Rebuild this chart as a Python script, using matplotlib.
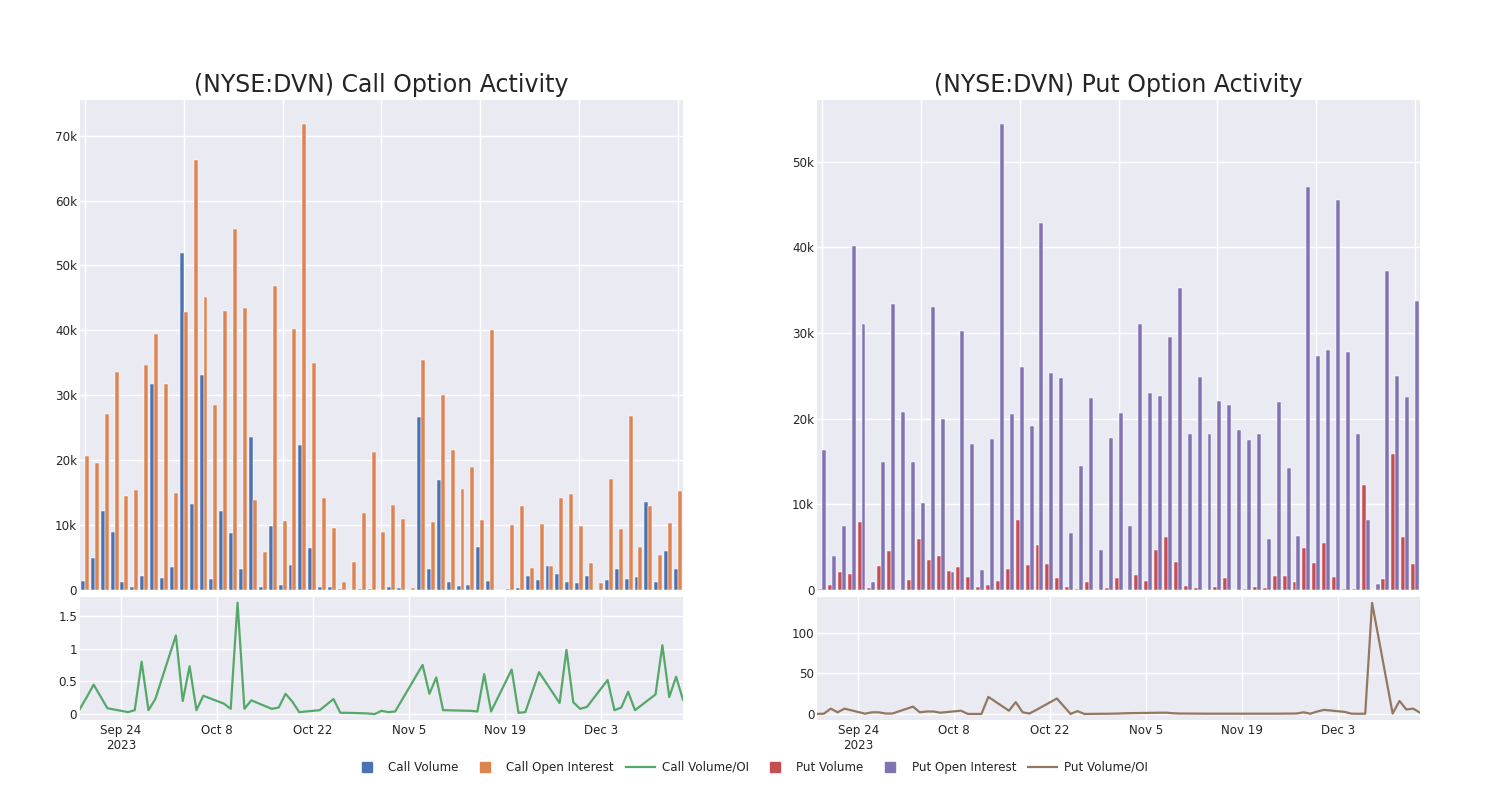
"""Call / put option activity for NYSE:DVN, Sep-Dec 2023 (bars + volume/OI line)."""

import matplotlib

matplotlib.use("Agg")
import matplotlib.pyplot as plt
from matplotlib.lines import Line2D
import numpy as np
import pandas as pd

# trading dates (one bar group per date, categorical on the bar axes)
dates = [
    "2023-09-18", "2023-09-19", "2023-09-20", "2023-09-21", "2023-09-22",
    "2023-09-25", "2023-09-26", "2023-09-27", "2023-09-28", "2023-09-29",
    "2023-10-02", "2023-10-03", "2023-10-04", "2023-10-05", "2023-10-06",
    "2023-10-09", "2023-10-10", "2023-10-11", "2023-10-12", "2023-10-13",
    "2023-10-16", "2023-10-17", "2023-10-18", "2023-10-19", "2023-10-20",
    "2023-10-23", "2023-10-25", "2023-10-26", "2023-10-27", "2023-10-30",
    "2023-10-31", "2023-11-01", "2023-11-02", "2023-11-03", "2023-11-07",
    "2023-11-08", "2023-11-09", "2023-11-10", "2023-11-14", "2023-11-15",
    "2023-11-16", "2023-11-17", "2023-11-20", "2023-11-21", "2023-11-22",
    "2023-11-24", "2023-11-27", "2023-11-28", "2023-11-29", "2023-11-30",
    "2023-12-01", "2023-12-04", "2023-12-05", "2023-12-06", "2023-12-07",
    "2023-12-08", "2023-12-11", "2023-12-12", "2023-12-13", "2023-12-14",
    "2023-12-15",
]

# values in thousands of contracts
call_volume = [
    1.4, 5.0, 12.1, 8.9, 1.2, 0.4, 2.1, 31.8, 1.9, 3.5,
    51.9, 13.2, 33.1, 1.7, 12.1, 8.8, 3.3, 23.6, 0.4, 9.9,
    0.8, 3.8, 22.4, 6.5, 0.4, 0.5, 0.2, 0.05, 0.2, 0.2,
    0.0, 0.5, 0.3, 0.0, 26.7, 3.2, 17.0, 1.3, 0.6, 0.7,
    6.6, 1.4, 0.05, 0.15, 0.35, 2.2, 1.5, 3.65, 2.5, 1.2,
    1.1, 2.2, 0.05, 1.6, 3.2, 1.7, 1.95, 13.6, 1.3, 6.0,
    3.2,
]
call_oi = [
    20.6, 19.5, 27.1, 33.6, 14.5, 15.4, 34.7, 39.5, 31.7, 15.0,
    42.8, 66.3, 45.1, 28.5, 43.0, 55.6, 43.4, 13.9, 5.8, 46.8,
    10.7, 40.2, 71.8, 34.9, 14.2, 9.5, 1.2, 4.3, 11.9, 21.2,
    9.0, 13.1, 10.9, 0.25, 35.5, 10.5, 30.0, 21.5, 15.6, 19.0,
    10.8, 40.1, 0.07, 10.0, 13.0, 3.4, 10.2, 3.65, 14.2, 14.8,
    9.8, 4.2, 1.1, 17.1, 9.4, 26.8, 6.6, 12.9, 5.35, 10.4,
    15.2,
]
call_ratio = [
    0.08, 0.26, 0.45, 0.27, 0.09, 0.03, 0.06, 0.80, 0.06, 0.23,
    1.20, 0.20, 0.73, 0.06, 0.28, 0.16, 0.08, 1.70, 0.08, 0.21,
    0.08, 0.10, 0.31, 0.19, 0.03, 0.06, 0.23, 0.02, 0.02, 0.01,
    0.00, 0.05, 0.03, 0.04, 0.75, 0.31, 0.56, 0.06, 0.05, 0.04,
    0.61, 0.04, 0.68, 0.02, 0.03, 0.64, 0.17, 0.98, 0.18, 0.08,
    0.11, 0.52, 0.06, 0.10, 0.34, 0.06, 0.30, 1.05, 0.26, 0.57,
    0.22,
]
put_volume = [
    0.15, 0.6, 2.1, 1.9, 7.9, 0.2, 2.8, 4.6, 0.0, 1.2,
    6.0, 3.5, 4.0, 2.25, 2.7, 1.5, 0.3, 0.55, 1.05, 2.45,
    8.2, 2.9, 5.3, 3.0, 1.45, 0.4, 0.15, 0.9, 0.0, 0.2,
    1.4, 0.0, 1.7, 1.0, 4.65, 6.2, 3.25, 0.5, 0.25, 0.05,
    0.3, 1.4, 0.0, 0.1, 0.4, 0.2, 1.6, 1.6, 0.9, 4.9,
    3.2, 5.5, 1.55, 0.1, 0.15, 12.3, 0.03, 1.3, 15.9, 6.2,
    3.05,
]
put_oi = [
    16.3, 4.0, 7.5, 40.2, 31.0, 0.9, 14.9, 33.4, 20.8, 15.0,
    10.2, 33.0, 20.0, 2.1, 30.2, 17.1, 2.3, 17.6, 54.4, 20.6,
    26.0, 19.1, 42.9, 25.3, 24.8, 6.6, 14.5, 22.4, 4.7, 17.7,
    20.7, 7.5, 31.1, 23.0, 22.7, 29.5, 35.2, 18.2, 24.9, 18.2,
    22.1, 21.6, 18.7, 17.5, 18.2, 5.9, 21.9, 14.3, 6.3, 47.0,
    27.3, 28.0, 45.5, 27.8, 18.2, 8.2, 0.75, 37.2, 25.0, 22.5,
    33.7,
]
put_ratio = [
    0.0, 0.3, 6.5, 2.0, 6.5, 0.3, 2.0, 2.0, 0.5, 0.5,
    9.0, 2.0, 3.0, 3.0, 1.5, 4.0, 0.0, 0.0, 0.0, 21.0,
    4.0, 14.5, 2.0, 0.5, 5.0, 19.0, 0.0, 3.5, 0.0, 0.2,
    0.3, 0.5, 0.8, 1.0, 1.5, 1.5, 0.8, 0.5, 0.3, 0.3,
    0.3, 0.3, 0.3, 0.3, 0.3, 0.3, 0.5, 2.0, 0.3, 3.0,
    5.0, 2.5, 0.3, 0.2, 0.3, 137.0, 0.5, 16.0, 5.5, 6.5,
    1.5,
]

date_ticks = ["2023-09-24", "2023-10-08", "2023-10-22", "2023-11-05",
              "2023-11-19", "2023-12-03"]
date_tick_labels = ["Sep 24\n2023", "Oct 8", "Oct 22", "Nov 5", "Nov 19", "Dec 3"]

BG = "#EAEAF2"
TXT = "#242424"
C_BLUE, C_ORANGE, C_GREEN = "#4C72B0", "#DD8452", "#55A868"
C_RED, C_PURPLE, C_BROWN = "#C44E52", "#8172B3", "#937860"

plt.rcParams["font.family"] = "DejaVu Sans"
plt.rcParams["text.color"] = TXT


def style_axis(ax):
    ax.set_facecolor(BG)
    for s in ax.spines.values():
        s.set_visible(False)
    ax.grid(True, color="white", linewidth=1.0)
    ax.set_axisbelow(True)
    ax.tick_params(length=0, labelsize=8.6, colors=TXT, pad=2)


def draw_panel(fig, left, title, vol, oi, ratio, colors, bar_ymax, bar_ticks,
               line_ylim, line_ticks):
    c_vol, c_oi, c_line = colors
    ax_bar = fig.add_axes([left, 0.2625, 0.402, 0.6125])
    ax_line = fig.add_axes([left, 0.100, 0.402, 0.154])
    style_axis(ax_bar)
    style_axis(ax_line)

    x = np.arange(len(vol))
    ax_bar.bar(x - 0.2, vol, width=0.4, color=c_vol, edgecolor="white",
               linewidth=0.35)
    ax_bar.bar(x + 0.2, oi, width=0.4, color=c_oi, edgecolor="white",
               linewidth=0.35)
    ax_bar.set_xlim(-0.5, len(vol) - 0.5)
    ax_bar.set_xticks(np.arange(0, len(vol), 10))
    ax_bar.set_xticklabels([])
    ax_bar.set_ylim(0, bar_ymax)
    ax_bar.set_yticks(bar_ticks)
    ax_bar.set_yticklabels(["0" if t == 0 else f"{t}k" for t in bar_ticks])
    ax_bar.set_title(title, fontsize=17, color=TXT, pad=6)

    d = pd.to_datetime(dates)
    ax_line.plot(d, ratio, color=c_line, linewidth=1.6)
    ax_line.set_xlim(d[0], d[-1])
    ax_line.set_ylim(*line_ylim)
    ax_line.set_yticks(line_ticks)
    ax_line.set_yticklabels([f"{t:g}" for t in line_ticks])
    ax_line.set_xticks(pd.to_datetime(date_ticks))
    ax_line.set_xticklabels(date_tick_labels)
    ax_line.tick_params(axis="x", pad=3)
    return ax_bar, ax_line


fig = plt.figure(figsize=(15, 8), dpi=100)

draw_panel(fig, 0.0533, "(NYSE:DVN) Call Option Activity",
           call_volume, call_oi, call_ratio, (C_BLUE, C_ORANGE, C_GREEN),
           75.5, [0, 10, 20, 30, 40, 50, 60, 70], (-0.09, 1.79),
           [0, 0.5, 1, 1.5])
draw_panel(fig, 0.5447, "(NYSE:DVN) Put Option Activity",
           put_volume, put_oi, put_ratio, (C_RED, C_PURPLE, C_BROWN),
           57.2, [0, 10, 20, 30, 40, 50], (-7.5, 144.5), [0, 50, 100])

handles = [
    Line2D([], [], marker="s", linestyle="none", color=C_BLUE, markersize=7),
    Line2D([], [], marker="s", linestyle="none", color=C_ORANGE, markersize=7),
    Line2D([], [], color=C_GREEN, linewidth=1.6),
    Line2D([], [], marker="s", linestyle="none", color=C_RED, markersize=7),
    Line2D([], [], marker="s", linestyle="none", color=C_PURPLE, markersize=7),
    Line2D([], [], color=C_BROWN, linewidth=1.6),
]
labels = ["Call Volume", "Call Open Interest", "Call Volume/OI",
          "Put Volume", "Put Open Interest", "Put Volume/OI"]
fig.legend(handles, labels, loc="center", bbox_to_anchor=(0.5, 0.041),
           ncol=6, frameon=False, fontsize=8.6, handlelength=2.4,
           handletextpad=0.6, columnspacing=1.0)

fig.savefig("out.png", dpi=100)
plt.close(fig)
